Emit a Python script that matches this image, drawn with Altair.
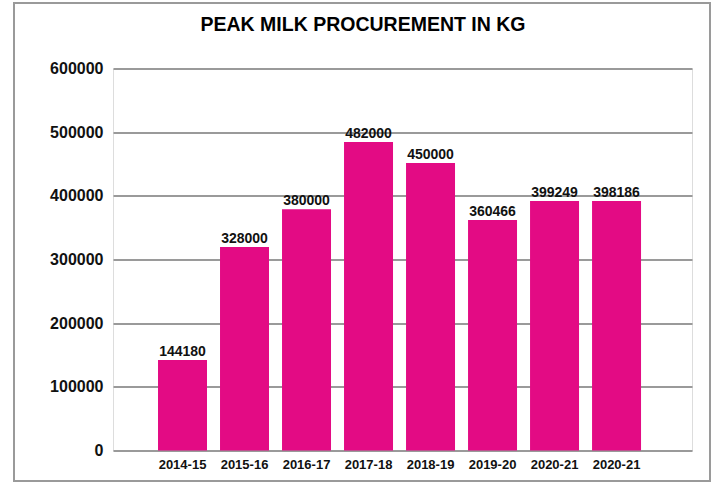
import altair as alt
import pandas as pd

years = ["2014-15", "2015-16", "2016-17", "2017-18", "2018-19", "2019-20", "2020-21", "2020-21"]
bar_heights = [142000, 319500, 379000, 484500, 451500, 362000, 392000, 392000]
value_labels = ["144180", "328000", "380000", "482000", "450000", "360466", "399249", "398186"]
y_ticks = [0, 100000, 200000, 300000, 400000, 500000, 600000]

df = pd.DataFrame({
    "key": [f"{i}|{y}" for i, y in enumerate(years)],
    "value": bar_heights,
    "label": value_labels,
})

FONT = "Liberation Sans"
BAR_COLOR = "#E30B84"
GRID = "#9A9A9A"

x_enc = alt.X(
    "key:N",
    sort=None,
    title=None,
    scale=alt.Scale(paddingInner=0.21, paddingOuter=0.774, align=0.469),
    axis=alt.Axis(
        labelExpr="split(datum.label, '|')[1]",
        labelAngle=0,
        labelFont=FONT,
        labelFontSize=13,
        labelFontWeight="bold",
        labelColor="#111111",
        labelPadding=8,
        domain=False,
        ticks=False,
        grid=False,
    ),
)
y_enc = alt.Y(
    "value:Q",
    title=None,
    scale=alt.Scale(domain=[0, 600000], nice=False),
    axis=alt.Axis(
        values=y_ticks,
        format="d",
        labelFont=FONT,
        labelFontSize=16,
        labelFontWeight="bold",
        labelColor="#111111",
        labelPadding=10,
        domain=False,
        ticks=False,
        grid=True,
        gridColor=GRID,
        gridWidth=2,
    ),
)

bars = alt.Chart(df).mark_bar(color=BAR_COLOR).encode(x=x_enc, y=y_enc)

texts = alt.Chart(df).mark_text(
    font=FONT, fontSize=14, fontWeight="bold", color="#111111",
    baseline="alphabetic", dy=-4,
).encode(x=alt.X("key:N", sort=None), y="value:Q", text="label:N")

border = alt.Chart(alt.Data(values=[{}])).mark_rect(
    filled=False, stroke=GRID, strokeWidth=2, clip=False
).encode(
    x=alt.value(-99), x2=alt.value(597), y=alt.value(-65.5), y2=alt.value(30.5 + 382)
)

chart = alt.layer(bars, texts, border).properties(
    width=579,
    height=382,
    autosize=alt.AutoSizeParams(type="none"),
    padding={"left": 113, "top": 68.5, "right": 20, "bottom": 34.5},
    title=alt.TitleParams(
        "PEAK MILK PROCUREMENT IN KG",
        font=FONT, fontSize=19.5, fontWeight="bold", color="#000000",
        anchor="middle", frame="group", dx=-39.5, offset=0, dy=48.5, baseline="alphabetic",
    ),
).configure_view(stroke=None).configure(background="white")

chart.save("out.html", embed_options={"renderer": "svg", "actions": False})
